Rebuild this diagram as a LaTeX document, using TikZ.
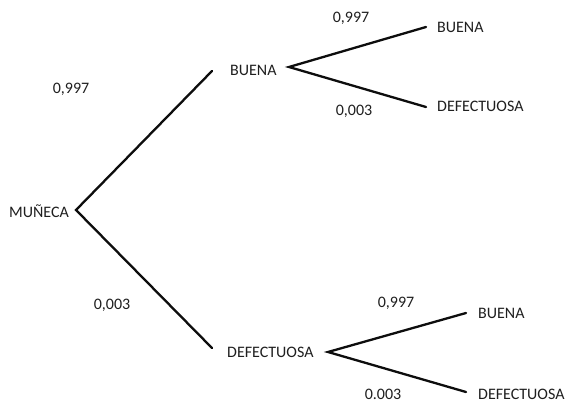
\documentclass[tikz,border=0pt]{standalone}
\usepackage{fontspec}
\setmainfont{Carlito}
\begin{document}
\begin{tikzpicture}[x=1pt,y=-1pt,
  lbl/.style={inner sep=0pt, anchor=west, text=black!88, font=\fontsize{16}{18}\selectfont},
  prob/.style={inner sep=0pt, anchor=center, text=black!88, font=\fontsize{16}{18}\selectfont},
  branch/.style={line width=2.3pt, black!95, line cap=round}]
\useasboundingbox[fill=white] (0,0) rectangle (566,403);
% labels
\node[lbl] (muneca) at (9,211) {MUÑECA};
\node[lbl] (b1) at (230,70) {BUENA};
\node[lbl] (d1) at (227,352) {DEFECTUOSA};
\node[lbl] (b11) at (437,27) {BUENA};
\node[lbl] (d11) at (437,106) {DEFECTUOSA};
\node[lbl] (b21) at (478,313) {BUENA};
\node[lbl] (d21) at (478,394) {DEFECTUOSA};
% branch end points
\coordinate (r) at (76,210);
\coordinate (rb) at (212,71);
\coordinate (rd) at (212,348);
\coordinate (v1) at (289,67);
\coordinate (v1b) at (426,27);
\coordinate (v1d) at (426,107);
\coordinate (v2) at (328,352);
\coordinate (v2b) at (466,313);
\coordinate (v2d) at (466,392);
\draw[branch] (rb) -- (r) -- (rd);
\draw[branch] (v1b) -- (v1) -- (v1d);
\draw[branch] (v2b) -- (v2) -- (v2d);
% probabilities
\node[prob] (p1) at (71,89) {0,997};
\node[prob] (p2) at (112,305) {0,003};
\node[prob] (p3) at (351,18) {0,997};
\node[prob] (p4) at (354,111) {0,003};
\node[prob] (p5) at (396,303) {0,997};
\node[prob] (p6) at (383,394) {0.003};
\end{tikzpicture}
\end{document}
